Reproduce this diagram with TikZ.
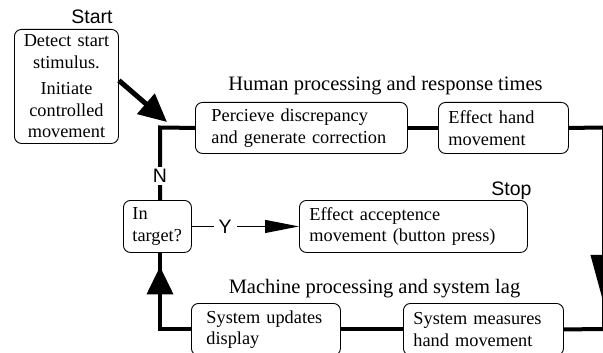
\documentclass[tikz,border=0pt]{standalone}
\usepackage{fontspec}
\setmainfont{Liberation Serif}
\setsansfont{Liberation Sans}
\usetikzlibrary{arrows.meta}
\usetikzlibrary{decorations.markings}

\begin{document}
\begin{tikzpicture}[
    x=1pt, y=-1pt,
    box/.style={draw=black, line width=0.9pt, rounded corners=7pt, anchor=north west,
        align=left, inner xsep=10pt, inner ysep=0pt, font=\fontsize{18.3}{21.5}\selectfont},
    title/.style={anchor=base, font=\fontsize{20.5}{24}\selectfont},
    cue/.style={font=\sffamily\fontsize{19.5}{23}\selectfont, inner xsep=5pt, inner ysep=2pt},
    wire/.style={line width=4pt},
    link/.style={line width=1.2pt},
    midtip/.style n args={3}{postaction={decorate}, decoration={markings,
        mark=at position #1 with {\arrow{Triangle[length=#2, width=#3]}}}},
    ]

    \useasboundingbox (0,0) rectangle (603,353);
    \clip (0,0) rectangle (603,353);

    \node (start) [box, align=center, text width=88pt, inner xsep=8pt, minimum height=114pt] at (14,29)
        {Detect start\\stimulus.\\[5pt]Initiate\\controlled\\movement};
    \node (percv) [box, text width=180pt, inner xsep=16pt, minimum height=51pt] at (195,102)
        {Percieve discrepancy\\and generate correction};
    \node (hand) [box, text width=110pt, minimum height=51pt] at (438,102) {Effect hand\\movement};
    \node (target) [box, text width=50pt, inner xsep=9pt, minimum height=52pt] at (123,200) {In\\target?};
    \node (accept) [box, text width=208pt, minimum height=52pt] at (299,200)
        {Effect acceptence\\movement (button press)};
    \node (update) [box, text width=119pt, inner xsep=15pt, minimum height=52pt] at (191,303)
        {System updates\\display};
    \node (measure) [box, text width=140pt, minimum height=52pt] at (403,303)
        {System measures\\hand movement};

    \node (human) [title] at (385.5,91) {Human processing and response times};
    \node (machine) [title] at (374.5,293) {Machine processing and system lag};
    \node (go) [cue, anchor=base] at (92,24) {Start};
    \node (halt) [cue, anchor=base] at (511.5,195) {Stop};

    \coordinate (corner) at (160,127.5);
    \coordinate (entry) at (167,122);
    \coordinate (ne) at (604,127.5);
    \coordinate (se) at (604,329);

    \draw [wire, line width=5pt, -{Triangle[length=28pt, width=26pt]}] ([yshift=6pt]start.east) -- (entry);
    \draw [wire] (corner |- target.north) -- node (no) [cue, fill=white, pos=0.33] {N} (corner) -- (percv.west);
    \draw [wire] (percv.east) -- (hand.west);
    \draw [wire, midtip={212.5pt}{50pt}{26pt}] (hand.east) -- (ne) -- (se) -- (measure.east);
    \draw [wire] (measure.west) -- (update.east);
    \draw [wire, midtip={94pt}{28pt}{26pt}] (update.west) -| (corner |- target.south);
    \draw [link, -{Triangle[length=34pt, width=13pt]}] (target.east) -- node (yes) [cue, fill=white, pos=0.31] {Y} (accept.west);
\end{tikzpicture}
\end{document}
